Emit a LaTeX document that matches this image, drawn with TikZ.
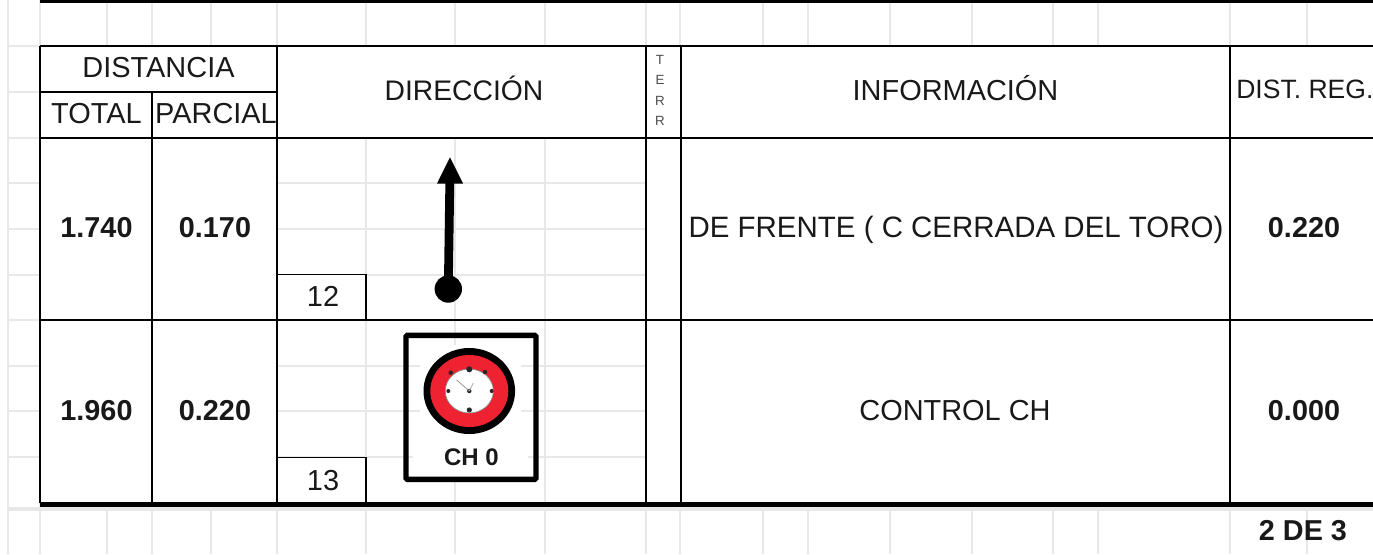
\documentclass[tikz,border=0pt]{standalone}
\usepackage{fontspec}
\setmainfont{Liberation Sans}
\newcommand{\reg}{\fontsize{21.7pt}{25pt}\selectfont}
\newcommand{\regD}{\fontsize{21.2pt}{25pt}\selectfont}
\newcommand{\regL}{\fontsize{22.1pt}{25pt}\selectfont}
\newcommand{\regS}{\fontsize{19.9pt}{23pt}\selectfont}
\newcommand{\bld}{\fontsize{21.6pt}{25pt}\selectfont\bfseries}
\definecolor{gridc}{HTML}{E8E8E8}
\definecolor{ringred}{HTML}{EE2230}
\tikzset{
  px/.style={x=0.75pt,y=-0.75pt},
  gridline/.style={draw=gridc,line width=2pt},
  rule/.style={draw=black,line width=1.5pt},
  thinrule/.style={draw=black,line width=1.2pt},
  heavy/.style={draw=black,line width=3.7pt},
  txt/.style={inner sep=0pt,text=black!90,anchor=center},
  num/.style={txt,font=\bld},
  lab/.style={txt,font=\reg},
  terr/.style={txt,font=\fontsize{10pt}{12pt}\selectfont,text=black!70},
  tick/.style={fill=black!85}
}
\begin{document}
\begin{tikzpicture}[px]
\useasboundingbox (0,0) rectangle (1373,554);
\clip (0,0) rectangle (1373,554);
\fill[white] (0,0) rectangle (1373,554);
% pale sheet grid
\foreach \x in {8,40,107,152,211,277,366,455,545,646,680,763,808,890,972,1053,1098,1230,1307}
  \draw[gridline] (\x,0) -- (\x,554);
\foreach \y in {46,92,138,183,229,275,320,366,411,457}
  \draw[gridline] (8,\y) -- (1373,\y);
\draw[draw=gridc,line width=3pt] (8,509) -- (1373,509);
% white cells above grid
\fill[white] (41,47) rectangle (277,503);
\fill[white] (277,47) rectangle (1373,138);
\fill[white] (646,138) rectangle (1373,503);
\fill[white] (277,274) rectangle (366,320);
\fill[white] (277,457) rectangle (366,503);
% white halo round the stamp picture
\fill[white] (420,345) rectangle (521,437);
\fill[white] (413,437) rectangle (528,477);
% top rule
\draw[draw=black,line width=2.4pt] (40,1) -- (1373,1);
% table rules
\draw[rule] (40,46) -- (1373,46);
\draw[rule] (40,92) -- (277,92);
\draw[thinrule] (40,138) -- (1373,138);
\draw[rule] (40,320) -- (1373,320);
\draw[rule] (40,46) -- (40,503);
\draw[rule] (152,92) -- (152,503);
\draw[rule] (277,46) -- (277,503);
\draw[rule] (646,46) -- (646,503);
\draw[rule] (680.5,46) -- (680.5,503);
\draw[rule] (1230,46) -- (1230,503);
\draw[thinrule] (277,274.5) -- (366,274.5) -- (366,320);
\draw[thinrule] (277,457.5) -- (366,457.5) -- (366,503);
\draw[heavy] (40,504.5) -- (1373,504.5);
% headers
\node[lab] (dist) at (158.5,68) {DISTANCIA};
\node[lab] (tot) at (96.5,114) {TOTAL};
\node[lab] (par) at (216,114) {PARCIAL};
\node[txt,font=\regD] (dir) at (464,88.5) {DIRECCIÓN};
\node[lab] (inf) at (955.5,88.5) {INFORMACIÓN};
\node[txt,font=\regS,anchor=west] (reg) at (1236,89.5) {DIST. REG.};
\node[terr] (t1) at (660,60) {T};
\node[terr] (t2) at (660,80) {E};
\node[terr] (t3) at (660,101) {R};
\node[terr] (t4) at (660,121) {R};
% row 1
\node[num] (a1) at (96.5,228) {1.740};
\node[num] (b1) at (215,228) {0.170};
\node[lab] (n12) at (323,296) {12};
\node[txt,font=\regL] (i1) at (956,230) {DE FRENTE ( C CERRADA DEL TORO)};
\node[num] (r1) at (1304,228) {0.220};
\coordinate (dot) at (448.3,289);
\coordinate (neck) at (449.8,183);
\fill[black] (dot) circle (13.7);
\draw[draw=black,line width=6.6pt] (dot) -- (neck);
\fill[black] (437,183.5) -- (450,157.3) -- (463,183.5) -- cycle;
% row 2
\node[num] (a2) at (96.5,411) {1.960};
\node[num] (b2) at (215,411) {0.220};
\node[lab] (n13) at (323,481) {13};
\node[lab] (i2) at (955,411) {CONTROL CH};
\node[num] (r2) at (1304,411) {0.000};
\draw[draw=black,line width=4pt,rounded corners=1pt] (406,335.4) rectangle (536,479.4);
\fill[black] (469.3,391) ellipse (45.8 and 43);
\fill[ringred] (469.3,391) ellipse (39 and 36);
\fill[white] (469.3,391) ellipse (24 and 22);
\draw[draw=black!45,line width=0.5pt] (469.3,391) ellipse (24 and 22);
\fill[tick] (469.3,369.3) circle (3);
\fill[tick] (469.3,410) circle (2.6);
\fill[tick] (448.3,391) circle (2);
\fill[tick] (491.7,391) circle (2);
\fill[tick] (450.7,372.7) circle (2.2);
\fill[tick] (485,372) circle (2.2);
\fill[tick] (469.3,391) circle (2.2);
\draw[draw=black!40,line width=0.6pt] (469.3,391) -- (456.7,380);
\draw[draw=black!30,line width=0.6pt] (469.3,391) -- (473.3,383);
\node[txt,font=\fontsize{18pt}{21pt}\selectfont\bfseries] (ch) at (471.5,457) {CH 0};
% page number
\node[num] (pg) at (1303,530.5) {2 DE 3};
\end{tikzpicture}
\end{document}
